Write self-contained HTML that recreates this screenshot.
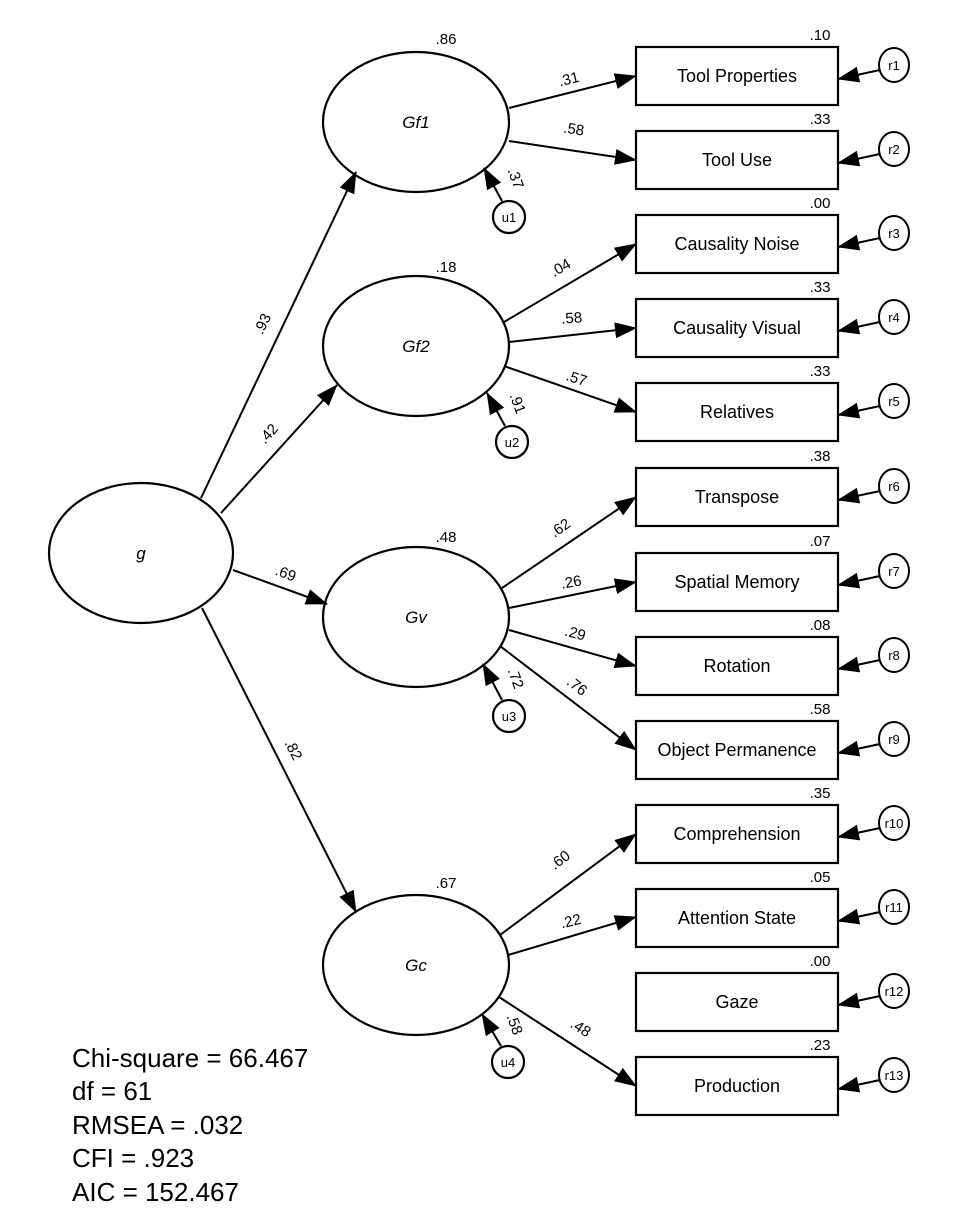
<!DOCTYPE html>
<html><head><meta charset="utf-8"><style>
html,body{margin:0;padding:0;background:#fff;}
svg{display:block;font-family:"Liberation Sans",Arial,sans-serif;}
</style></head><body>
<svg width="957" height="1226" viewBox="0 0 957 1226" xmlns="http://www.w3.org/2000/svg">
<defs>
<marker id="a" markerUnits="userSpaceOnUse" markerWidth="22" markerHeight="16" refX="21" refY="8" orient="auto">
<path d="M0,0 L22,8 L0,16 z" fill="#000"/>
</marker>
</defs>
<g stroke="#000" stroke-width="2.2" fill="none">
<ellipse cx="141" cy="553" rx="92" ry="70"/>
<ellipse cx="416" cy="122" rx="93" ry="70"/>
<ellipse cx="416" cy="346" rx="93" ry="70"/>
<ellipse cx="416" cy="617" rx="93" ry="70"/>
<ellipse cx="416" cy="965" rx="93" ry="70"/>
<rect x="636" y="47" width="202" height="58"/>
<rect x="636" y="131" width="202" height="58"/>
<rect x="636" y="215" width="202" height="58"/>
<rect x="636" y="299" width="202" height="58"/>
<rect x="636" y="383" width="202" height="58"/>
<rect x="636" y="468" width="202" height="58"/>
<rect x="636" y="553" width="202" height="58"/>
<rect x="636" y="637" width="202" height="58"/>
<rect x="636" y="721" width="202" height="58"/>
<rect x="636" y="805" width="202" height="58"/>
<rect x="636" y="889" width="202" height="58"/>
<rect x="636" y="973" width="202" height="58"/>
<rect x="636" y="1057" width="202" height="58"/>
<circle cx="509" cy="217" r="16"/>
<circle cx="512" cy="442" r="16"/>
<circle cx="509" cy="716" r="16"/>
<circle cx="508" cy="1062" r="16"/>
</g>
<g stroke="#000" stroke-width="2" fill="none" marker-end="url(#a)">
<line x1="201" y1="498" x2="356" y2="172"/>
<line x1="221" y1="513" x2="337" y2="385"/>
<line x1="233" y1="570" x2="327" y2="604"/>
<line x1="202" y1="608" x2="356" y2="912"/>
<line x1="509" y1="108" x2="636" y2="76"/>
<line x1="509" y1="141" x2="636" y2="160"/>
<line x1="504" y1="322" x2="636" y2="244"/>
<line x1="509" y1="342" x2="636" y2="328"/>
<line x1="504" y1="366" x2="636" y2="412"/>
<line x1="502" y1="588" x2="636" y2="497"/>
<line x1="509" y1="608" x2="636" y2="582"/>
<line x1="509" y1="630" x2="636" y2="666"/>
<line x1="500" y1="646" x2="636" y2="750"/>
<line x1="500" y1="935" x2="636" y2="834"/>
<line x1="508" y1="955" x2="636" y2="917"/>
<line x1="499" y1="997" x2="636" y2="1086"/>
<line x1="502" y1="201" x2="484" y2="168"/>
<line x1="505" y1="426" x2="487" y2="393"/>
<line x1="502" y1="700" x2="483" y2="664"/>
<line x1="501" y1="1046" x2="482" y2="1014"/>
<line x1="880" y1="70" x2="838" y2="79"/>
<line x1="880" y1="154" x2="838" y2="163"/>
<line x1="880" y1="238" x2="838" y2="247"/>
<line x1="880" y1="322" x2="838" y2="331"/>
<line x1="880" y1="406" x2="838" y2="415"/>
<line x1="880" y1="491" x2="838" y2="500"/>
<line x1="880" y1="576" x2="838" y2="585"/>
<line x1="880" y1="660" x2="838" y2="669"/>
<line x1="880" y1="744" x2="838" y2="753"/>
<line x1="880" y1="828" x2="838" y2="837"/>
<line x1="880" y1="912" x2="838" y2="921"/>
<line x1="880" y1="996" x2="838" y2="1005"/>
<line x1="880" y1="1080" x2="838" y2="1089"/>
</g>
<g stroke="#000" stroke-width="2" fill="#fff">
<ellipse cx="894" cy="65" rx="15" ry="17"/>
<ellipse cx="894" cy="149" rx="15" ry="17"/>
<ellipse cx="894" cy="233" rx="15" ry="17"/>
<ellipse cx="894" cy="317" rx="15" ry="17"/>
<ellipse cx="894" cy="401" rx="15" ry="17"/>
<ellipse cx="894" cy="486" rx="15" ry="17"/>
<ellipse cx="894" cy="571" rx="15" ry="17"/>
<ellipse cx="894" cy="655" rx="15" ry="17"/>
<ellipse cx="894" cy="739" rx="15" ry="17"/>
<ellipse cx="894" cy="823" rx="15" ry="17"/>
<ellipse cx="894" cy="907" rx="15" ry="17"/>
<ellipse cx="894" cy="991" rx="15" ry="17"/>
<ellipse cx="894" cy="1075" rx="15" ry="17"/>
</g>
<g font-size="13" text-anchor="middle" fill="#000">
<text x="894" y="70">r1</text><text x="894" y="154">r2</text><text x="894" y="238">r3</text>
<text x="894" y="322">r4</text><text x="894" y="406">r5</text><text x="894" y="491">r6</text>
<text x="894" y="576">r7</text><text x="894" y="660">r8</text><text x="894" y="744">r9</text>
<text x="894" y="828">r10</text><text x="894" y="912">r11</text><text x="894" y="996">r12</text>
<text x="894" y="1080">r13</text>
<text x="509" y="222">u1</text><text x="512" y="447">u2</text><text x="509" y="721">u3</text><text x="508" y="1067">u4</text>
</g>
<g font-size="17" text-anchor="middle" fill="#000" font-style="italic">
<text x="141" y="559">g</text>
<text x="416" y="128">Gf1</text>
<text x="416" y="352">Gf2</text>
<text x="416" y="623">Gv</text>
<text x="416" y="971">Gc</text>
</g>
<g font-size="18" text-anchor="middle" fill="#000">
<text x="737" y="82">Tool Properties</text>
<text x="737" y="166">Tool Use</text>
<text x="737" y="250">Causality Noise</text>
<text x="737" y="334">Causality Visual</text>
<text x="737" y="418">Relatives</text>
<text x="737" y="503">Transpose</text>
<text x="737" y="588">Spatial Memory</text>
<text x="737" y="672">Rotation</text>
<text x="737" y="756">Object Permanence</text>
<text x="737" y="840">Comprehension</text>
<text x="737" y="924">Attention State</text>
<text x="737" y="1008">Gaze</text>
<text x="737" y="1092">Production</text>
</g>
<g font-size="15" text-anchor="middle" fill="#000">
<text x="820" y="40">.10</text><text x="820" y="124">.33</text><text x="820" y="208">.00</text>
<text x="820" y="292">.33</text><text x="820" y="376">.33</text><text x="820" y="461">.38</text>
<text x="820" y="546">.07</text><text x="820" y="630">.08</text><text x="820" y="714">.58</text>
<text x="820" y="798">.35</text><text x="820" y="882">.05</text><text x="820" y="966">.00</text>
<text x="820" y="1050">.23</text>
<text x="446" y="44">.86</text><text x="446" y="272">.18</text><text x="446" y="542">.48</text><text x="446" y="888">.67</text>
<text transform="translate(267,326) rotate(-64)">.93</text>
<text transform="translate(272,437) rotate(-48)">.42</text>
<text transform="translate(284,578) rotate(20)">.69</text>
<text transform="translate(289,752) rotate(63)">.82</text>
<text transform="translate(570,84) rotate(-14)">.31</text>
<text transform="translate(573,134) rotate(9)">.58</text>
<text transform="translate(511,180) rotate(70)">.37</text>
<text transform="translate(563,272) rotate(-30)">.04</text>
<text transform="translate(572,323) rotate(-4)">.58</text>
<text transform="translate(575,383) rotate(18)">.57</text>
<text transform="translate(513,405) rotate(70)">.91</text>
<text transform="translate(563,532) rotate(-35)">.62</text>
<text transform="translate(572,587) rotate(-10)">.26</text>
<text transform="translate(574,638) rotate(15)">.29</text>
<text transform="translate(574,690) rotate(38)">.76</text>
<text transform="translate(511,680) rotate(70)">.72</text>
<text transform="translate(563,864) rotate(-37)">.60</text>
<text transform="translate(572,926) rotate(-14)">.22</text>
<text transform="translate(578,1032) rotate(33)">.48</text>
<text transform="translate(510,1026) rotate(70)">.58</text>
</g>
<g font-size="26" fill="#000">
<text x="72" y="1067">Chi-square = 66.467</text>
<text x="72" y="1100">df = 61</text>
<text x="72" y="1134">RMSEA = .032</text>
<text x="72" y="1167">CFI = .923</text>
<text x="72" y="1201">AIC = 152.467</text>
</g>
</svg>
</body></html>
